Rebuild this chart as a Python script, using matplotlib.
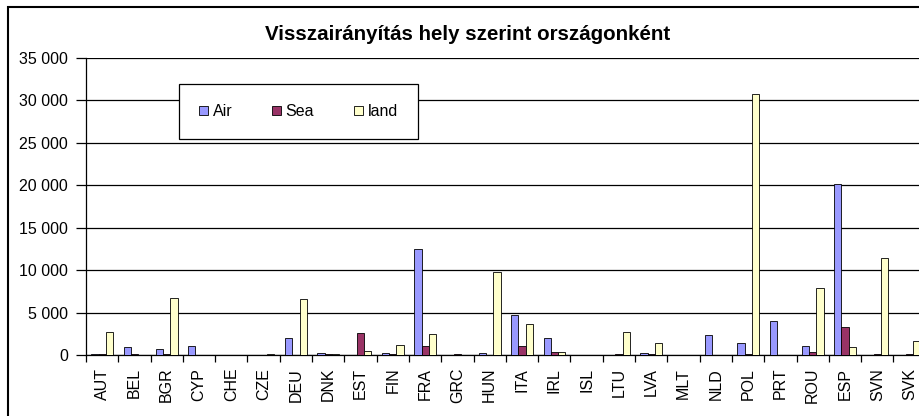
import numpy as np
import matplotlib
matplotlib.use('Agg')
import matplotlib.pyplot as plt
from matplotlib.patches import Rectangle
from matplotlib.ticker import FuncFormatter

plt.rcParams['font.family'] = ['Liberation Sans', 'DejaVu Sans']

# Data
countries = ['AUT', 'BEL', 'BGR', 'CYP', 'CHE', 'CZE', 'DEU', 'DNK', 'EST', 'FIN',
             'FRA', 'GRC', 'HUN', 'ITA', 'IRL', 'ISL', 'LTU', 'LVA', 'MLT', 'NLD',
             'POL', 'PRT', 'ROU', 'ESP', 'SVN', 'SVK']
air = [100, 1000, 700, 1120, 0, 80, 1980, 230, 80, 230,
       12560, 80, 230, 4770, 2090, 0, 80, 230, 0, 2400,
       1400, 3990, 1120, 20150, 0, 80]
sea = [100, 100, 100, 0, 0, 0, 0, 100, 2640, 100,
       1050, 100, 0, 1120, 350, 0, 100, 100, 0, 0,
       120, 0, 350, 3330, 100, 100]
land = [2700, 0, 6750, 0, 0, 100, 6590, 100, 500, 1160,
        2520, 0, 9800, 3640, 350, 0, 2710, 1400, 0, 0,
        30800, 0, 7870, 930, 11510, 1740]

series = [('Air', air, '#9999FF'), ('Sea', sea, '#993366'), ('land', land, '#FFFFCC')]

W, H = 920, 416
fig = plt.figure(figsize=(W / 100, H / 100), dpi=100)

# plot area: continues past the right edge of the picture, as in the reference
left_px, zero_px, top_px, cat_px = 86, 355.3, 58, 32.3
n_slots = 28
ax = fig.add_axes([left_px / W, 1 - zero_px / H,
                   n_slots * cat_px / W, (zero_px - top_px) / H])

x = np.arange(len(countries))
bw = 1 / 4.5
for i, (name, vals, col) in enumerate(series):
    ax.bar(x + (i - 1) * bw, vals, width=bw, color=col, edgecolor='black',
           linewidth=0.6, label=name, zorder=3)

ax.set_xlim(-0.5, n_slots - 0.5)
ax.set_ylim(0, 35000)
ax.set_yticks(np.arange(0, 35001, 5000))
ax.yaxis.set_major_formatter(FuncFormatter(lambda v, p: f'{int(v):,}'.replace(',', ' ')))
ax.yaxis.grid(True, color='black', linewidth=0.9, zorder=0)

# category boundary ticks, labels centred
ax.set_xticks(np.arange(-0.5, n_slots, 1.0))
ax.set_xticklabels([])
ax.set_xticks(x, minor=True)
ax.set_xticklabels(countries, minor=True, rotation=90, fontsize=11.5)
ax.tick_params(axis='x', which='major', length=5, width=0.9, direction='out')
ax.tick_params(axis='x', which='minor', length=0, pad=9)
ax.tick_params(axis='y', length=7, width=0.9, pad=6, labelsize=11.5)

for s in ['top', 'right']:
    ax.spines[s].set_visible(False)
for s in ['left', 'bottom']:
    ax.spines[s].set_linewidth(0.9)

fig.text(468 / W, 1 - 35 / H, 'Visszairányítás hely szerint országonként',
         ha='center', va='center', fontsize=14.8, fontweight='bold')

leg = ax.legend(loc='upper left', bbox_to_anchor=(179 / W, 1 - 84 / H),
                bbox_transform=fig.transFigure, ncol=3, fontsize=11.5,
                frameon=True, fancybox=False, framealpha=1, edgecolor='black',
                handlelength=0.55, handleheight=0.55, handletextpad=0.3,
                columnspacing=2.5, borderpad=1.25, borderaxespad=0)
leg.get_frame().set_linewidth(0.9)
leg.set_zorder(5)

# outer chart border
fig.patches.append(Rectangle((8 / W, -0.1), 2, 1 - 7 / H + 0.1, transform=fig.transFigure,
                             fill=False, edgecolor='black', linewidth=1.5))

fig.savefig('out.png', dpi=100)
